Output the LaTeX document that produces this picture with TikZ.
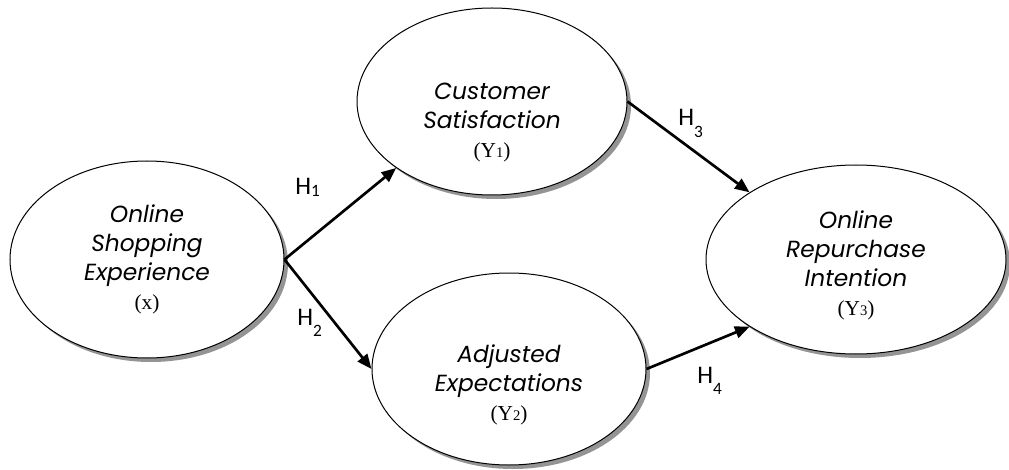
\documentclass[tikz,border=0pt]{standalone}
\usepackage{fontspec}
\setmainfont{Liberation Serif}
\newfontfamily\gothic{Poppins}
\newfontfamily\calib{Carlito}
\usetikzlibrary{positioning, calc, arrows.meta, shadows, shapes.geometric}

\newcommand{\varlab}[2]{{\rmfamily\upshape\fontsize{16}{21.75}\selectfont(#1{\fontsize{11}{11}\selectfont #2})}}

\begin{document}
\begin{tikzpicture}[x=0.75pt, y=-0.75pt,
    oval/.style={ellipse, draw, line width=0.75pt, fill=white, inner sep=0pt,
        drop shadow={shadow xshift=3pt, shadow yshift=-3pt, fill=black!42, opacity=1}},
    ovaltext/.style={align=center, inner sep=0pt, font=\gothic\itshape\fontsize{17.5}{21.75}\selectfont},
    hyp/.style={anchor=base west, inner sep=0pt, font=\calib\fontsize{19}{19}\selectfont},
    link/.style={line width=2pt, -{Triangle[length=11pt, width=9pt]}}]

    \useasboundingbox (0,0) rectangle (1009,470);

    % Latent constructs
    \node[oval, minimum width=205.5pt, minimum height=147.75pt] (exp) at (147,259.5) {};
    \node[oval, minimum width=202.5pt, minimum height=140.25pt] (sat) at (492,101.5) {};
    \node[oval, minimum width=205.5pt, minimum height=144pt] (adj) at (509,369) {};
    \node[oval, minimum width=225pt, minimum height=141.75pt] (rep) at (856,259.5) {};

    % Construct names
    \node[ovaltext] (exptext) at (147,259) {Online\\Shopping\\Experience\\\varlab{x}{}};
    \node[ovaltext] (sattext) at (492,123) {Customer\\Satisfaction\\\varlab{Y}{1}};
    \node[ovaltext] (adjtext) at (509,385) {Adjusted\\Expectations\\\varlab{Y}{2}};
    \node[ovaltext] (reptext) at (856,265) {Online\\Repurchase\\Intention\\\varlab{Y}{3}};

    % Hypothesised paths
    \draw[link] (exp.east) -- (sat.south west);
    \draw[link] (exp.east) -- (adj.west);
    \draw[link] (sat.east) -- (rep.north west);
    \draw[link] (adj.east) -- (rep.south west);

    % Path labels
    \node[hyp] (h1) at (295,195) {H\raisebox{-1.5pt}{\fontsize{13}{13}\selectfont 1}};
    \node[hyp] (h2) at (297,325) {H\raisebox{-8.5pt}{\fontsize{13}{13}\selectfont 2}};
    \node[hyp] (h3) at (678,126) {H\raisebox{-8.5pt}{\fontsize{13}{13}\selectfont 3}};
    \node[hyp] (h4) at (697,383) {H\raisebox{-8.5pt}{\fontsize{13}{13}\selectfont 4}};

\end{tikzpicture}
\end{document}
